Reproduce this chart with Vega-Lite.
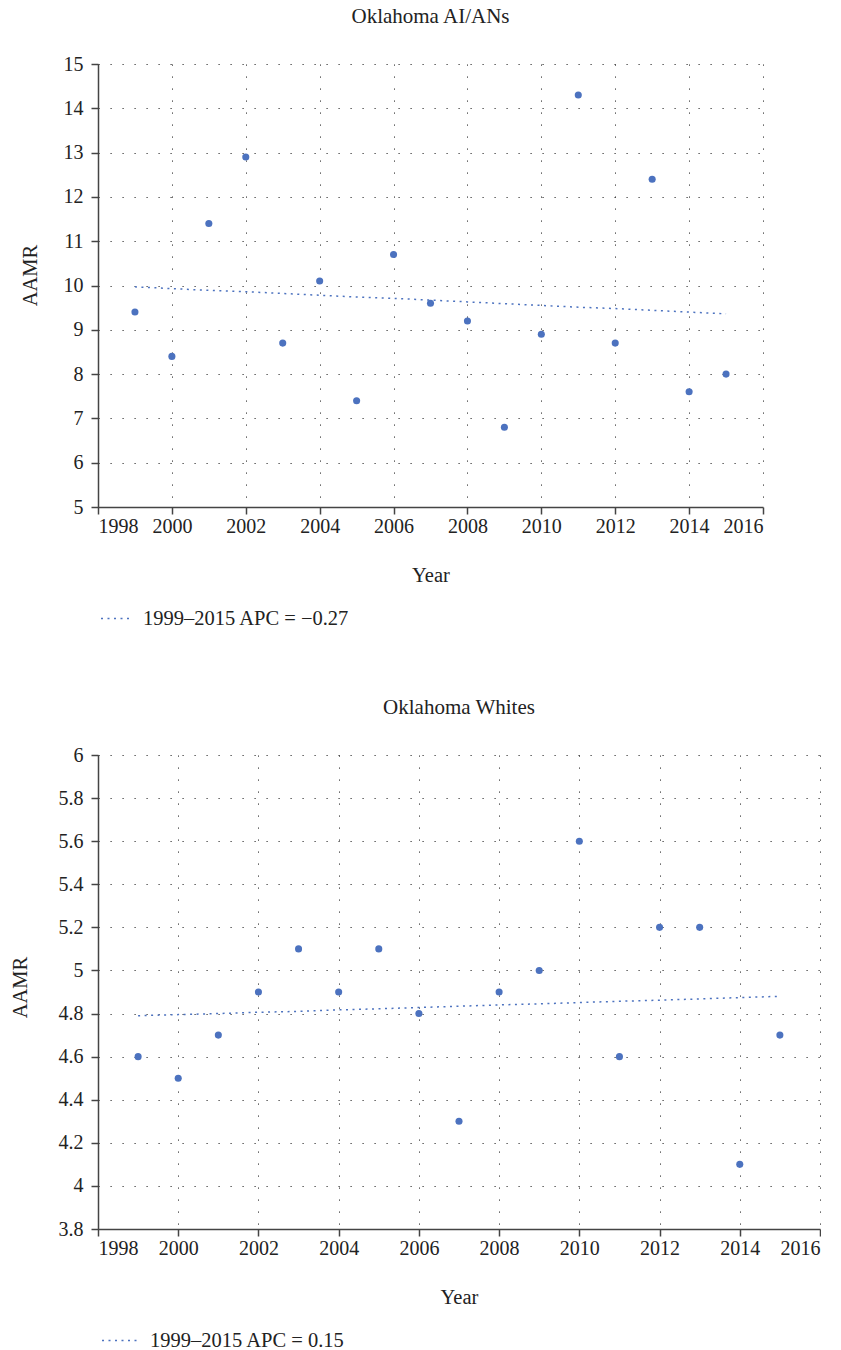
{
  "$schema": "https://vega.github.io/schema/vega-lite/v6.json",
  "padding": {"left": 10, "top": 6, "right": 0, "bottom": 2},
  "background": "white",
  "datasets": {
    "aian": [
      {"year": 1999, "aamr": 9.4, "trend": 9.97},
      {"year": 2000, "aamr": 8.4, "trend": 9.93},
      {"year": 2001, "aamr": 11.4, "trend": 9.89},
      {"year": 2002, "aamr": 12.9, "trend": 9.86},
      {"year": 2003, "aamr": 8.7, "trend": 9.82},
      {"year": 2004, "aamr": 10.1, "trend": 9.78},
      {"year": 2005, "aamr": 7.4, "trend": 9.74},
      {"year": 2006, "aamr": 10.7, "trend": 9.71},
      {"year": 2007, "aamr": 9.6, "trend": 9.67},
      {"year": 2008, "aamr": 9.2, "trend": 9.63},
      {"year": 2009, "aamr": 6.8, "trend": 9.59},
      {"year": 2010, "aamr": 8.9, "trend": 9.55},
      {"year": 2011, "aamr": 14.3, "trend": 9.51},
      {"year": 2012, "aamr": 8.7, "trend": 9.48},
      {"year": 2013, "aamr": 12.4, "trend": 9.44},
      {"year": 2014, "aamr": 7.6, "trend": 9.40},
      {"year": 2015, "aamr": 8.0, "trend": 9.36}
    ],
    "whites": [
      {"year": 1999, "aamr": 4.6, "trend": 4.79},
      {"year": 2000, "aamr": 4.5, "trend": 4.795},
      {"year": 2001, "aamr": 4.7, "trend": 4.80},
      {"year": 2002, "aamr": 4.9, "trend": 4.806},
      {"year": 2003, "aamr": 5.1, "trend": 4.81},
      {"year": 2004, "aamr": 4.9, "trend": 4.817},
      {"year": 2005, "aamr": 5.1, "trend": 4.822},
      {"year": 2006, "aamr": 4.8, "trend": 4.828},
      {"year": 2007, "aamr": 4.3, "trend": 4.834},
      {"year": 2008, "aamr": 4.9, "trend": 4.84},
      {"year": 2009, "aamr": 5.0, "trend": 4.845},
      {"year": 2010, "aamr": 5.6, "trend": 4.851},
      {"year": 2011, "aamr": 4.6, "trend": 4.857},
      {"year": 2012, "aamr": 5.2, "trend": 4.862},
      {"year": 2013, "aamr": 5.2, "trend": 4.868},
      {"year": 2014, "aamr": 4.1, "trend": 4.874},
      {"year": 2015, "aamr": 4.7, "trend": 4.88}
    ]
  },
  "columns": 1,
  "align": "none",
  "spacing": 68,
  "resolve": {"scale": {"color": "independent"}, "legend": {"color": "independent"}},
  "concat": [
    {
      "width": 665,
      "height": 443,
      "title": "Oklahoma AI/ANs",
      "data": {"name": "aian"},
      "encoding": {
        "x": {
          "field": "year",
          "type": "quantitative",
          "title": "Year",
          "scale": {"domain": [1998, 2016], "nice": false, "zero": false},
          "axis": {"values": [1998, 2000, 2002, 2004, 2006, 2008, 2010, 2012, 2014, 2016], "format": "d"}
        }
      },
      "layer": [
        {
          "mark": {"type": "line", "strokeDash": [2, 4.5], "strokeWidth": 1.5},
          "encoding": {
            "y": {
              "field": "trend",
              "type": "quantitative",
              "title": "AAMR",
              "scale": {"domain": [5, 15], "nice": false, "zero": false},
              "axis": {"values": [5, 6, 7, 8, 9, 10, 11, 12, 13, 14, 15], "titleY": 211, "titlePadding": 23}
            },
            "color": {
              "datum": "1999–2015 APC = −0.27",
              "scale": {"range": ["#4C72BF"]},
              "legend": {
                "title": null,
                "orient": "none",
                "legendX": 2,
                "legendY": 539,
                "symbolType": "stroke",
                "symbolSize": 841,
                "symbolDash": [2, 4.5],
                "symbolStrokeWidth": 1.5,
                "labelOffset": 12
              }
            }
          }
        },
        {
          "mark": {"type": "circle", "size": 50, "opacity": 1, "color": "#4C72BF"},
          "encoding": {
            "y": {"field": "aamr", "type": "quantitative"}
          }
        }
      ]
    },
    {
      "width": 722,
      "height": 474,
      "title": "Oklahoma Whites",
      "data": {"name": "whites"},
      "encoding": {
        "x": {
          "field": "year",
          "type": "quantitative",
          "title": "Year",
          "scale": {"domain": [1998, 2016], "nice": false, "zero": false},
          "axis": {"values": [1998, 2000, 2002, 2004, 2006, 2008, 2010, 2012, 2014, 2016], "format": "d"}
        }
      },
      "layer": [
        {
          "mark": {"type": "line", "strokeDash": [2, 4.5], "strokeWidth": 1.5},
          "encoding": {
            "y": {
              "field": "trend",
              "type": "quantitative",
              "title": "AAMR",
              "scale": {"domain": [3.8, 6], "nice": false, "zero": false},
              "axis": {"values": [3.8, 4, 4.2, 4.4, 4.6, 4.8, 5, 5.2, 5.4, 5.6, 5.8, 6], "format": "~g", "titleY": 232, "titlePadding": 28}
            },
            "color": {
              "datum": "1999–2015 APC = 0.15",
              "scale": {"range": ["#4C72BF"]},
              "legend": {
                "title": null,
                "orient": "none",
                "legendX": 3,
                "legendY": 567,
                "symbolType": "stroke",
                "symbolSize": 1225,
                "symbolDash": [2, 4.5],
                "symbolStrokeWidth": 1.5,
                "labelOffset": 12
              }
            }
          }
        },
        {
          "mark": {"type": "circle", "size": 50, "opacity": 1, "color": "#4C72BF"},
          "encoding": {
            "y": {"field": "aamr", "type": "quantitative"}
          }
        }
      ]
    }
  ],
  "config": {
    "font": "Liberation Serif",
    "view": {"stroke": null},
    "title": {"fontSize": 21, "fontWeight": "normal", "color": "#222", "font": "Liberation Serif", "baseline": "alphabetic", "offset": 27},
    "axis": {
      "labelFont": "Liberation Serif",
      "labelFontSize": 20,
      "labelColor": "#222",
      "titleFont": "Liberation Serif",
      "titleFontSize": 20.5,
      "titleFontWeight": "normal",
      "titleColor": "#222",
      "domainColor": "#444",
      "domainWidth": 1.5,
      "tickColor": "#444",
      "tickWidth": 1.5,
      "tickSize": 7,
      "grid": true,
      "gridColor": "#333",
      "gridWidth": 1,
      "gridDash": [1.2, 10.8],
      "gridOpacity": 1
    },
    "axisX": {"labelPadding": 2, "titlePadding": 29},
    "axisY": {"labelPadding": 8},
    "legend": {
      "labelFont": "Liberation Serif",
      "labelFontSize": 20.5,
      "labelColor": "#222",
      "labelLimit": 400,
      "padding": 0
    }
  }
}
